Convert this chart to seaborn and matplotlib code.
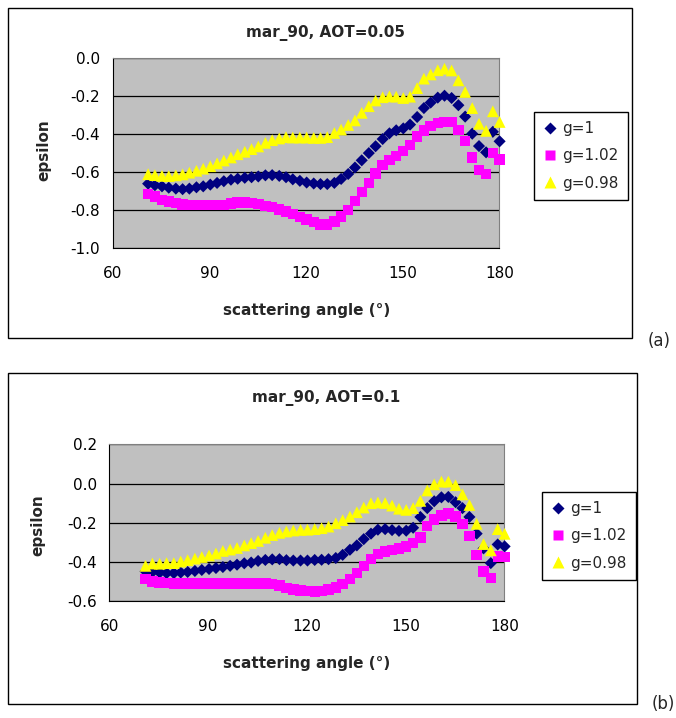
import pandas as pd
import matplotlib
matplotlib.use("Agg")
import matplotlib.pyplot as plt
import seaborn as sns
from matplotlib.lines import Line2D
from matplotlib.patches import Rectangle

# scattering angles (deg), same for both panels
angle = [71.0, 73.1, 75.3, 77.4, 79.6, 81.7, 83.8, 86.0, 88.1, 90.3,
         92.4, 94.5, 96.7, 98.8, 101.0, 103.1, 105.2, 107.4, 109.5, 111.7,
         113.8, 115.9, 118.1, 120.2, 122.4, 124.5, 126.6, 128.8, 130.9, 133.1,
         135.2, 137.3, 139.5, 141.6, 143.8, 145.9, 148.0, 150.2, 152.3, 154.5,
         156.6, 158.7, 160.9, 163.0, 165.2, 167.3, 169.4, 171.6, 173.7, 175.9,
         178.0, 180.1]

# panel (a) AOT=0.05
a_g1 = [-0.663, -0.671, -0.677, -0.684, -0.689, -0.692, -0.689, -0.682, -0.677, -0.668,
        -0.659, -0.650, -0.642, -0.637, -0.632, -0.629, -0.625, -0.619, -0.618, -0.622,
        -0.629, -0.640, -0.648, -0.657, -0.662, -0.665, -0.665, -0.659, -0.638, -0.612,
        -0.578, -0.540, -0.502, -0.466, -0.428, -0.398, -0.382, -0.372, -0.352, -0.312,
        -0.265, -0.236, -0.210, -0.200, -0.212, -0.250, -0.310, -0.400, -0.465, -0.498,
        -0.390, -0.440]
a_g102 = [-0.718, -0.731, -0.748, -0.757, -0.765, -0.773, -0.776, -0.776, -0.776, -0.776,
          -0.776, -0.774, -0.768, -0.762, -0.762, -0.765, -0.771, -0.780, -0.787, -0.798,
          -0.810, -0.824, -0.839, -0.852, -0.865, -0.877, -0.878, -0.862, -0.836, -0.802,
          -0.755, -0.706, -0.660, -0.610, -0.565, -0.538, -0.518, -0.492, -0.460, -0.414,
          -0.384, -0.358, -0.343, -0.338, -0.338, -0.380, -0.438, -0.525, -0.590, -0.612,
          -0.500, -0.535]
a_g098 = [-0.613, -0.618, -0.622, -0.623, -0.619, -0.614, -0.605, -0.595, -0.584, -0.571,
          -0.556, -0.541, -0.525, -0.508, -0.495, -0.481, -0.467, -0.448, -0.434, -0.425,
          -0.418, -0.420, -0.420, -0.420, -0.422, -0.422, -0.418, -0.396, -0.378, -0.354,
          -0.330, -0.290, -0.255, -0.225, -0.208, -0.203, -0.205, -0.212, -0.205, -0.160,
          -0.110, -0.088, -0.066, -0.058, -0.067, -0.119, -0.180, -0.265, -0.348, -0.385,
          -0.282, -0.338]

# panel (b) AOT=0.1
b_g1 = [-0.447, -0.450, -0.453, -0.456, -0.456, -0.453, -0.450, -0.445, -0.440, -0.435,
        -0.430, -0.425, -0.419, -0.413, -0.406, -0.402, -0.394, -0.389, -0.386, -0.385,
        -0.390, -0.392, -0.392, -0.392, -0.389, -0.388, -0.385, -0.379, -0.363, -0.337,
        -0.315, -0.283, -0.255, -0.235, -0.232, -0.237, -0.241, -0.240, -0.225, -0.170,
        -0.125, -0.090, -0.070, -0.068, -0.095, -0.125, -0.170, -0.255, -0.330, -0.405,
        -0.310, -0.320]
b_g102 = [-0.486, -0.498, -0.503, -0.507, -0.508, -0.508, -0.508, -0.508, -0.508, -0.508,
          -0.508, -0.508, -0.508, -0.508, -0.508, -0.508, -0.508, -0.509, -0.512, -0.520,
          -0.533, -0.540, -0.544, -0.548, -0.549, -0.547, -0.540, -0.530, -0.510, -0.487,
          -0.455, -0.420, -0.385, -0.360, -0.345, -0.338, -0.330, -0.321, -0.303, -0.275,
          -0.215, -0.183, -0.162, -0.152, -0.168, -0.205, -0.266, -0.363, -0.447, -0.482,
          -0.371, -0.374]
b_g098 = [-0.419, -0.407, -0.408, -0.405, -0.405, -0.397, -0.390, -0.382, -0.374, -0.366,
          -0.356, -0.343, -0.336, -0.328, -0.315, -0.303, -0.292, -0.276, -0.262, -0.251,
          -0.244, -0.239, -0.236, -0.235, -0.232, -0.227, -0.219, -0.202, -0.186, -0.168,
          -0.146, -0.122, -0.100, -0.096, -0.099, -0.112, -0.128, -0.134, -0.125, -0.088,
          -0.035, -0.004, 0.010, 0.010, -0.008, -0.055, -0.109, -0.205, -0.308, -0.340,
          -0.232, -0.256]

labels = ["g=1", "g=1.02", "g=0.98"]
colors = {"g=1": "#000080", "g=1.02": "#FF00FF", "g=0.98": "#FFFF00"}
markers = {"g=1": "D", "g=1.02": "s", "g=0.98": "^"}
sizes = {"g=1": 38, "g=1.02": 56, "g=0.98": 72}

sns.set_style("white")
plt.rcParams['font.family'] = ['DejaVu Sans']
plt.rcParams['axes.unicode_minus'] = False

fig = plt.figure(figsize=(6.76, 7.18), dpi=100)


def draw_panel(ax_rect, box_rect, series, title, yticks, leg_anchor, tag, tag_pos,
               ylab_pos, xlab_y, title_y):
    # outer chart border
    fig.patches.append(Rectangle(box_rect[:2], box_rect[2], box_rect[3],
                                 transform=fig.transFigure, fill=False,
                                 edgecolor='black', lw=1.0))
    ax = fig.add_axes(ax_rect)
    rows = []
    for lab, vals in zip(labels, series):
        rows.append(pd.DataFrame({'angle': angle, 'epsilon': vals, 'g': lab}))
    df = pd.concat(rows)
    for lab in labels:
        sns.scatterplot(data=df[df['g'] == lab], x='angle', y='epsilon', ax=ax,
                        color=colors[lab], marker=markers[lab], s=sizes[lab],
                        edgecolor='none', linewidth=0, legend=False, zorder=3,
                        clip_on=False)
    ax.set_facecolor('#C0C0C0')
    ax.set_xlim(60, 180)
    ax.set_ylim(yticks[0], yticks[-1])
    ax.set_xticks([60, 90, 120, 150, 180])
    ax.set_yticks(yticks)
    ax.set_yticklabels([f"{v:.1f}" for v in yticks])
    ax.yaxis.grid(True, color='black', lw=0.9)
    ax.set_axisbelow(True)
    for s in ['top', 'right']:
        ax.spines[s].set_color('#808080')
    for s in ['left', 'bottom']:
        ax.spines[s].set_color('black')
    ax.tick_params(direction='out', length=5, width=1, color='black',
                   labelsize=11, labelcolor='black')
    ax.tick_params(axis='x', pad=8)
    ax.tick_params(axis='y', pad=4)
    ax.set_xlabel('')
    ax.set_ylabel('')

    fig.text(0.482, title_y, title, ha='center', va='center',
             fontsize=11, fontweight='bold')
    fig.text(0.453, xlab_y, 'scattering angle (°)', ha='center', va='center',
             fontsize=11, fontweight='bold')
    fig.text(ylab_pos[0], ylab_pos[1], 'epsilon', ha='center', va='center',
             rotation=90, fontsize=11, fontweight='bold')
    fig.text(tag_pos[0], tag_pos[1], tag, ha='left', va='center', fontsize=12)

    handles = [Line2D([], [], linestyle='none', marker=markers[l], color=colors[l],
                      markeredgecolor='none', markersize=(sizes[l] ** 0.5))
               for l in labels]
    leg = ax.legend(handles, labels, loc='upper left', bbox_to_anchor=leg_anchor,
                    bbox_transform=fig.transFigure, frameon=True, fancybox=False,
                    edgecolor='black', framealpha=1, fontsize=11, handlelength=0.9,
                    handletextpad=0.35, labelspacing=0.8, borderpad=0.6,
                    borderaxespad=0)
    leg.get_frame().set_linewidth(1.0)
    return ax


draw_panel([0.1667, 0.655, 0.5719, 0.2646], (0.0111, 0.5288, 0.9243, 0.4596),
           [a_g1, a_g102, a_g098], 'mar_90, AOT=0.05',
           [-1.0, -0.8, -0.6, -0.4, -0.2, 0.0], (0.790, 0.844), '(a)',
           (0.9586, 0.525), (0.065, 0.791), 0.567, 0.954)

draw_panel([0.1617, 0.1624, 0.5843, 0.2188], (0.0111, 0.0195, 0.9308, 0.4614),
           [b_g1, b_g102, b_g098], 'mar_90, AOT=0.1',
           [-0.6, -0.4, -0.2, 0.0, 0.2], (0.8018, 0.3148), '(b)',
           (0.9645, 0.0195), (0.056, 0.269), 0.0766, 0.4457)

fig.savefig('out.png', dpi=100, facecolor='white')
